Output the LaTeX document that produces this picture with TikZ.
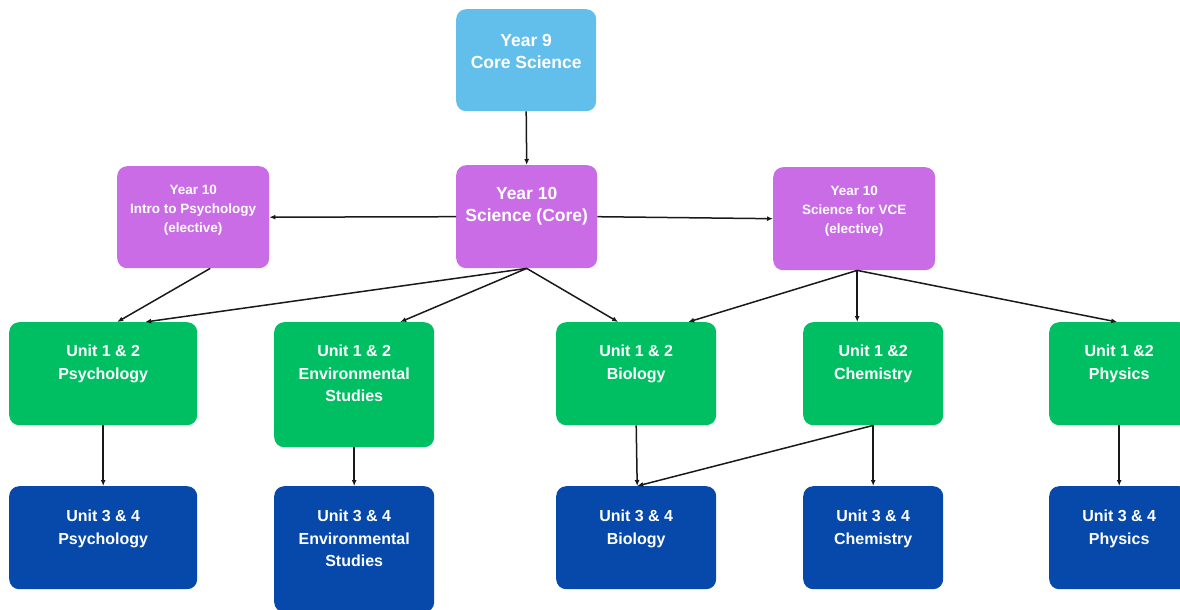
\documentclass[tikz,border=0pt]{standalone}
\usepackage{fontspec}
\newfontfamily\lsans{Liberation Sans}
\usetikzlibrary{arrows.meta}
\definecolor{lblue}{RGB}{98,190,235}
\definecolor{vio}{RGB}{201,108,230}
\definecolor{grn}{RGB}{0,191,99}
\definecolor{dblue}{RGB}{6,73,170}
\definecolor{arrc}{RGB}{25,25,25}
\tikzset{
  box/.style={rounded corners=10pt, inner sep=0pt, anchor=north west, draw=none},
  txtbig/.style={text=white, inner sep=0pt, anchor=north, align=center, font=\lsans\bfseries\fontsize{17.5}{22}\selectfont},
  txtunit/.style={text=white, inner sep=0pt, anchor=north, align=center, font=\lsans\bfseries\fontsize{16}{22.5}\selectfont},
  txtsmall/.style={text=white, inner sep=0pt, anchor=north, align=center, font=\lsans\bfseries\fontsize{13.5}{19}\selectfont},
  arr/.style={draw=arrc, line width=1.5pt, -{Latex[length=6pt,width=5pt]}}
}
\begin{document}
\begin{tikzpicture}[x=1pt,y=-1pt]
\useasboundingbox (0,0) rectangle (1180,610);
\clip (0,0) rectangle (1180,610);
% boxes
\node[box, fill=lblue, minimum width=140pt, minimum height=102pt] (y9) at (456,9) {};
\node[box, fill=vio, minimum width=141pt, minimum height=103pt] (core) at (456,165) {};
\node[box, fill=vio, minimum width=152pt, minimum height=102pt] (intro) at (117,166) {};
\node[box, fill=vio, minimum width=162pt, minimum height=103pt] (vce) at (773,167) {};
\node[box, fill=grn, minimum width=188pt, minimum height=103pt] (p12) at (9,322) {};
\node[box, fill=grn, minimum width=160pt, minimum height=125pt] (e12) at (274,322) {};
\node[box, fill=grn, minimum width=160pt, minimum height=103pt] (b12) at (556,322) {};
\node[box, fill=grn, minimum width=140pt, minimum height=103pt] (c12) at (803,322) {};
\node[box, fill=grn, minimum width=140pt, minimum height=103pt] (ph12) at (1049,322) {};
\node[box, fill=dblue, minimum width=188pt, minimum height=103pt] (p34) at (9,486) {};
\node[box, fill=dblue, minimum width=160pt, minimum height=126pt] (e34) at (274,486) {};
\node[box, fill=dblue, minimum width=160pt, minimum height=103pt] (b34) at (556,486) {};
\node[box, fill=dblue, minimum width=140pt, minimum height=103pt] (c34) at (803,486) {};
\node[box, fill=dblue, minimum width=140pt, minimum height=103pt] (ph34) at (1049,486) {};
% texts
\node[txtbig] (y9t) at ([yshift=-25pt]y9.north) {Year 9\\Core Science};
\node[txtbig] (coret) at ([yshift=-22pt]core.north) {Year 10\\Science (Core)};
\node[txtsmall] (introt) at ([yshift=-19pt]intro.north) {Year 10\\Intro to Psychology\\(elective)};
\node[txtsmall] (vcet) at ([yshift=-19pt]vce.north) {Year 10\\Science for VCE\\(elective)};
\node[txtunit] (p12t) at ([yshift=-23pt]p12.north) {Unit 1 \& 2\\Psychology};
\node[txtunit] (e12t) at ([yshift=-23pt]e12.north) {Unit 1 \& 2\\Environmental\\Studies};
\node[txtunit] (b12t) at ([yshift=-23pt]b12.north) {Unit 1 \& 2\\Biology};
\node[txtunit] (c12t) at ([yshift=-23pt]c12.north) {Unit 1 \&2\\Chemistry};
\node[txtunit] (ph12t) at ([yshift=-23pt]ph12.north) {Unit 1 \&2\\Physics};
\node[txtunit] (p34t) at ([yshift=-24pt]p34.north) {Unit 3 \& 4\\Psychology};
\node[txtunit] (e34t) at ([yshift=-24pt]e34.north) {Unit 3 \& 4\\Environmental\\Studies};
\node[txtunit] (b34t) at ([yshift=-24pt]b34.north) {Unit 3 \& 4\\Biology};
\node[txtunit] (c34t) at ([yshift=-24pt]c34.north) {Unit 3 \& 4\\Chemistry};
\node[txtunit] (ph34t) at ([yshift=-24pt]ph34.north) {Unit 3 \& 4\\Physics};
% connectors
\draw[arr] (y9.south) -- (core.north);
\draw[arr] (core.west) -- (intro.east);
\draw[arr] (core.east) -- (vce.west);
\draw[arr] ([xshift=17pt]intro.south) -- ([xshift=14pt]p12.north);
\draw[arr] (core.south) -- ([xshift=42pt]p12.north);
\draw[arr] (core.south) -- ([xshift=46pt]e12.north);
\draw[arr] (core.south) -- ([xshift=-18pt]b12.north);
\draw[arr] ([xshift=3pt]vce.south) -- ([xshift=52pt]b12.north);
\draw[arr] ([xshift=3pt]vce.south) -- ([xshift=-16pt]c12.north);
\draw[arr] ([xshift=3pt]vce.south) -- ([xshift=-2pt]ph12.north);
\draw[arr] (p12.south) -- (p34.north);
\draw[arr] (e12.south) -- (e34.north);
\draw[arr] (b12.south) -- ([xshift=1pt]b34.north);
\draw[arr] (c12.south) -- ([xshift=1pt]b34.north);
\draw[arr] (c12.south) -- (c34.north);
\draw[arr] (ph12.south) -- (ph34.north);
\end{tikzpicture}
\end{document}
